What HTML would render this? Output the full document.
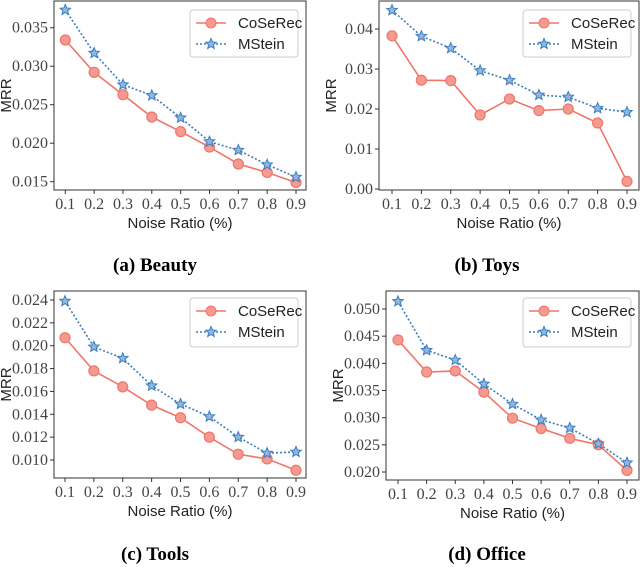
<!DOCTYPE html>
<html><head><meta charset="utf-8"><style>
body{margin:0;background:#fff;width:640px;height:567px;overflow:hidden}
svg{display:block}
.tick{font-family:"Liberation Serif","DejaVu Serif",serif;font-size:16px;fill:#444}
.lab{font-family:"Liberation Sans","DejaVu Sans",sans-serif;font-size:15px;fill:#222}
.leg{font-family:"Liberation Sans","DejaVu Sans",sans-serif;font-size:15px;fill:#222}
.cap{font-family:"Liberation Serif","DejaVu Serif",serif;font-size:19px;font-weight:bold;fill:#000}
</style></head><body>
<svg id="c" width="640" height="567"></svg>
<script>
const xCats=[0.1,0.2,0.3,0.4,0.5,0.6,0.7,0.8,0.9];
const beautyCoSeRec=[0.0334,0.0292,0.0263,0.0234,0.0215,0.0195,0.0173,0.0162,0.0149];
const beautyMStein=[0.0373,0.0317,0.0276,0.0262,0.0233,0.0202,0.0191,0.0172,0.0156];
const toysCoSeRec=[0.0383,0.0272,0.0271,0.0185,0.0225,0.0196,0.0200,0.0165,0.0019];
const toysMStein=[0.0447,0.0382,0.0352,0.0296,0.0272,0.0235,0.0230,0.0202,0.0192];
const toolsCoSeRec=[0.0207,0.0178,0.0164,0.0148,0.0137,0.0120,0.0105,0.0101,0.0091];
const toolsMStein=[0.0239,0.0199,0.0189,0.0165,0.0149,0.0138,0.0120,0.0106,0.0107];
const officeCoSeRec=[0.0443,0.0384,0.0386,0.0347,0.0299,0.0280,0.0262,0.0250,0.0203];
const officeMStein=[0.0514,0.0424,0.0406,0.0362,0.0325,0.0296,0.0281,0.0252,0.0217];
const beautyTicks=[0.015,0.020,0.025,0.030,0.035];
const toysTicks=[0.00,0.01,0.02,0.03,0.04];
const toolsTicks=[0.010,0.012,0.014,0.016,0.018,0.020,0.022,0.024];
const officeTicks=[0.020,0.025,0.030,0.035,0.040,0.045,0.050];
const NS="http://www.w3.org/2000/svg";
const svg=document.getElementById('c');
function mk(t,a,p){const e=document.createElementNS(NS,t);for(const k in a)e.setAttribute(k,a[k]);(p||svg).appendChild(e);return e;}
function star(cx,cy,r){let s='';for(let i=0;i<10;i++){const rr=i%2?r*0.45:r;const a=-Math.PI/2+i*Math.PI/5;s+=(i?'L':'M')+(cx+rr*Math.cos(a)).toFixed(2)+','+(cy+rr*Math.sin(a)).toFixed(2);}return s+'Z';}
function panel(name,box,xr,yr,ticks,dec,s1,s2,leg,cap){
  const g=mk('g',{});
  
  
  const X=v=>xr[0]+(v-0.1)/(0.8)*(xr[1]-xr[0]);
  const Y=v=>yr[0]+(v-yr[2])/(yr[3]-yr[2])*(yr[1]-yr[0]);
  ticks.forEach(t=>{const y=Y(t);mk('line',{x1:box[0]-4,x2:box[0],y1:y,y2:y,stroke:'#333'},g);
    const tx=mk('text',{x:box[0]-6,y:y+5,'text-anchor':'end',class:'tick'},g);tx.textContent=t.toFixed(dec);
    
    });
  xCats.forEach(c=>{const x=X(c);mk('line',{x1:x,x2:x,y1:box[3],y2:box[3]+4,stroke:'#333'},g);
    const tx=mk('text',{x:x,y:box[3]+19,'text-anchor':'middle',class:'tick'},g);tx.textContent=c.toFixed(1);
    
    });
  const xl=mk('text',{x:(box[0]+box[2])/2,y:box[3]+38,'text-anchor':'middle',class:'lab'},g);xl.textContent='Noise Ratio (%)';
  
  
  const yc=(box[1]+box[3])/2,yx=box[0]-43;
  const yl=mk('text',{x:yx,y:yc,'text-anchor':'middle',class:'lab',transform:`rotate(-90 ${yx} ${yc})`},g);yl.textContent='MRR';
  
  
  const p2=mk('polyline',{points:s2.map((v,i)=>X(xCats[i])+','+Y(v)).join(' '),fill:'none',stroke:'#3b7dbf','stroke-width':1.6,'stroke-dasharray':'2,2'},g);
  
  
  const p1=mk('polyline',{points:s1.map((v,i)=>X(xCats[i])+','+Y(v)).join(' '),fill:'none',stroke:'#f0766a','stroke-width':1.6},g);
  
  
  s1.forEach((v,i)=>{const c=mk('circle',{cx:X(xCats[i]),cy:Y(v),r:5,fill:'#f59a90',stroke:'#f0766a','stroke-width':1.2},g);
    
    });
  s2.forEach((v,i)=>{const c=mk('path',{d:star(X(xCats[i]),Y(v),5.5),fill:'#8fb8e0',stroke:'#3b7dbf','stroke-width':1},g);
    
    });
  const lg=mk('g',{},g);
  
  
  mk('rect',{x:leg[0],y:leg[1],width:leg[2]-leg[0],height:leg[3]-leg[1],rx:3,fill:'#fff',stroke:'#ccc'},lg);
  const ly1=leg[1]+13,ly2=leg[1]+34;
  mk('line',{x1:leg[0]+6,x2:leg[0]+36,y1:ly1,y2:ly1,stroke:'#f0766a','stroke-width':1.6},lg);
  mk('circle',{cx:leg[0]+21,cy:ly1,r:5,fill:'#f59a90',stroke:'#f0766a'},lg);
  const t1=mk('text',{x:leg[0]+48,y:ly1+5,class:'leg'},lg);t1.textContent='CoSeRec';
  
  
  mk('line',{x1:leg[0]+6,x2:leg[0]+36,y1:ly2,y2:ly2,stroke:'#3b7dbf','stroke-width':1.6,'stroke-dasharray':'2,2'},lg);
  mk('path',{d:star(leg[0]+21,ly2,5.5),fill:'#8fb8e0',stroke:'#3b7dbf'},lg);
  const t2=mk('text',{x:leg[0]+48,y:ly2+5,class:'leg'},lg);t2.textContent='MStein';
  
  
  mk('rect',{x:box[0],y:box[1],width:box[2]-box[0],height:box[3]-box[1],fill:'none',stroke:'#333','stroke-width':1},g);
  const ct=mk('text',{x:cap[1],y:cap[2],'text-anchor':'middle',class:'cap'},g);ct.textContent=cap[0];
  
  
}
panel('beauty',[54,1,306,190],[65.3,296],[27.7,181.7,0.035,0.015],beautyTicks,3,beautyCoSeRec,beautyMStein,[190,10,298,57],['(a) Beauty',155,271]);
panel('toys',[379,1,639,190],[392,627],[29,189,0.04,0.00],toysTicks,2,toysCoSeRec,toysMStein,[523,10,631,57],['(b) Toys',487,271]);
panel('tools',[54,291,306,478],[65,296],[300,460,0.024,0.010],toolsTicks,3,toolsCoSeRec,toolsMStein,[190,298,298,347],['(c) Tools',155,560]);
panel('office',[386,291,639,480],[398,627],[309,472,0.050,0.020],officeTicks,3,officeCoSeRec,officeMStein,[523,298,631,347],['(d) Office',487,560]);
</script>
</body></html>
